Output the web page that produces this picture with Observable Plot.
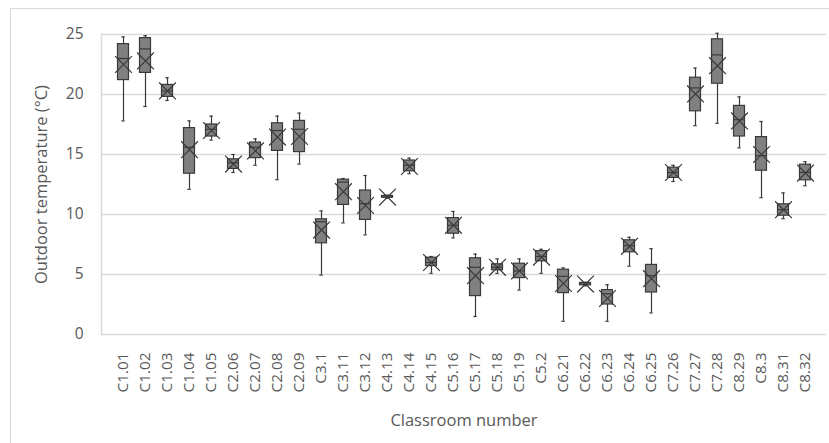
<!DOCTYPE html>
<html>
<head>
<meta charset="utf-8">
<script src="https://cdn.jsdelivr.net/npm/d3@7"></script>
<script src="https://cdn.jsdelivr.net/npm/@observablehq/plot@0.6"></script>
<style>
  html, body { margin: 0; padding: 0; background: #fff; }
  #wrap { position: relative; width: 829px; height: 443px; overflow: hidden; }
  #border { position: absolute; left: 10px; top: 8px; width: 900px; height: 500px;
            border-left: 1px solid #d9d9d9; border-top: 1px solid #d9d9d9; }
  #chart { position: absolute; left: 0; top: 0; }
</style>
</head>
<body>
<div id="wrap"><div id="border"></div><div id="chart"></div></div>
<script>
const categories = ["C1.01","C1.02","C1.03","C1.04","C1.05","C2.06","C2.07","C2.08","C2.09","C3.1","C3.11","C3.12","C4.13","C4.14","C4.15","C5.16","C5.17","C5.18","C5.19","C5.2","C6.21","C6.22","C6.23","C6.24","C6.25","C7.26","C7.27","C7.28","C8.29","C8.3","C8.31","C8.32"];
const minValues    = [17.8,19.0,19.5,12.1,16.2,13.5,14.1,12.9,14.2,4.95,9.3,8.3,11.35,13.4,5.1,8.05,1.5,5.1,3.7,5.1,1.1,4.05,1.1,5.7,1.8,12.75,17.4,17.6,15.55,11.4,9.65,12.4];
const q1Values     = [21.2,21.8,19.8,13.4,16.5,13.8,14.7,15.3,15.2,7.6,10.8,9.55,11.4,13.6,5.7,8.4,3.2,5.35,4.7,6.1,3.45,4.1,2.5,6.85,3.5,13.05,18.6,20.9,16.5,13.65,9.9,12.85];
const medianValues = [23.0,23.8,20.3,15.6,17.1,14.3,15.6,17.0,17.1,9.4,12.7,10.9,11.45,14.1,6.0,9.1,5.6,5.6,5.3,6.5,4.85,4.2,3.4,7.4,4.9,13.5,20.55,23.3,17.9,14.9,10.4,13.5];
const q3Values     = [24.2,24.7,20.8,17.2,17.5,14.6,16.0,17.6,17.8,9.6,12.9,12.0,11.55,14.5,6.4,9.7,6.35,5.85,5.9,6.95,5.4,4.3,3.7,7.85,5.8,13.9,21.4,24.6,19.05,16.45,10.85,14.15];
const maxValues    = [24.8,24.9,21.4,17.8,18.2,15.0,16.3,18.2,18.45,10.3,13.0,13.25,11.6,14.7,6.5,10.25,6.7,6.3,6.3,7.1,5.55,4.35,4.15,8.1,7.15,14.1,22.2,25.1,19.8,17.75,11.8,14.4];
const meanValues   = [22.5,22.8,20.3,15.4,17.0,14.2,15.3,16.45,16.5,8.7,11.9,10.75,11.45,14.0,6.0,9.1,4.9,5.6,5.3,6.45,4.25,4.2,3.0,7.35,4.65,13.5,20.05,22.4,17.8,15.0,10.4,13.45];
const yTicks = [0,5,10,15,20,25];

const data = categories.map((c, i) => ({
  cat: c, min: minValues[i], q1: q1Values[i], med: medianValues[i],
  q3: q3Values[i], max: maxValues[i], mean: meanValues[i]
}));

const textColor = "#595959";
const dark = "#3a3a3a";
const font = "'Open Sans', Lato, sans-serif";

const chart = Plot.plot({
  width: 829,
  height: 443,
  marginLeft: 101,
  marginRight: 3,
  marginTop: 34,
  marginBottom: 109,
  style: { fontFamily: font, fontSize: "15px", color: textColor, background: "transparent" },
  x: { domain: categories, padding: 0, label: null },
  y: { domain: [0, 25], label: null },
  marks: [
    Plot.ruleY(yTicks, { stroke: "#d9d9d9", strokeWidth: 1.5 }),
    Plot.frame({ anchor: "left", stroke: "#d9d9d9", strokeWidth: 1.5 }),
    Plot.axisY({ ticks: yTicks, tickSize: 0, tickPadding: 18, label: null, fontSize: 15.5, fill: textColor }),
    Plot.axisX({ tickSize: 0, tickPadding: 18, tickRotate: -90, label: null, fontSize: 15.3, fill: textColor }),
    Plot.ruleX(data, { x: "cat", y1: "min", y2: "max", stroke: dark, strokeWidth: 1.2 }),
    Plot.tickY(data, { x: "cat", y: "min", stroke: dark, strokeWidth: 1.2, insetLeft: 9.3, insetRight: 9.3 }),
    Plot.tickY(data, { x: "cat", y: "max", stroke: dark, strokeWidth: 1.2, insetLeft: 9.3, insetRight: 9.3 }),
    Plot.barY(data, { x: "cat", y1: "q1", y2: "q3", fill: "#808080", stroke: dark, strokeWidth: 1.2, insetLeft: 5.5, insetRight: 5.5 }),
    Plot.tickY(data, { x: "cat", y: "med", stroke: dark, strokeWidth: 1.2, insetLeft: 5.5, insetRight: 5.5 }),
    Plot.dot(data, { x: "cat", y: "mean", symbol: "times", r: 7.7, stroke: dark, strokeWidth: 1.2 }),
    Plot.text(["Classroom number"], { frameAnchor: "bottom", textAnchor: "middle", dy: 91, fill: textColor, fontSize: 16.5 }),
    Plot.text(["Outdoor temperature (°C)"], { frameAnchor: "left", textAnchor: "middle", dx: -60, rotate: -90, fill: textColor, fontSize: 16.5 })
  ]
});
document.getElementById("chart").appendChild(chart);
</script>
</body>
</html>
